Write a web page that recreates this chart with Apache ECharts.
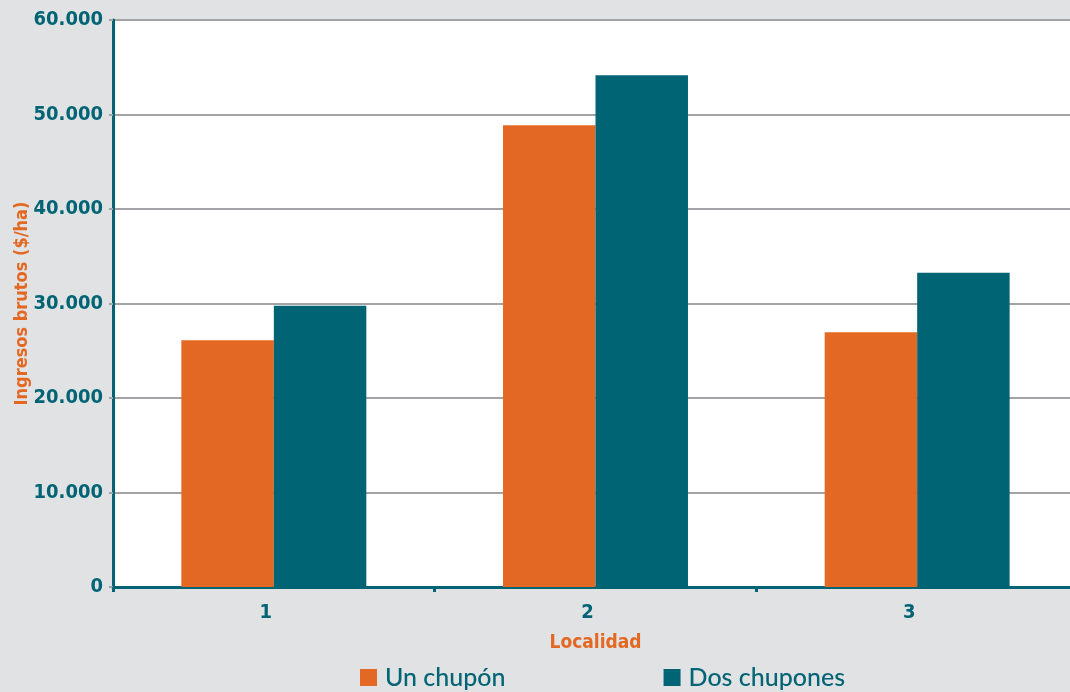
<!DOCTYPE html>
<html>
<head>
<meta charset="utf-8">
<script src="https://cdn.jsdelivr.net/npm/echarts@6/dist/echarts.min.js"></script>
<style>
  html, body { margin: 0; padding: 0; background: #e1e2e4; }
  #chart { width: 1070px; height: 692px; }
</style>
</head>
<body>
<div id="chart"></div>
<script>
// Gross income per hectare by locality, one vs. two suckers
const categories = ['1', '2', '3'];
const unChupon = [26100, 48850, 26950];
const dosChupones = [29750, 54150, 33250];
const yTicks = { min: 0, max: 60000, interval: 10000 };

const TEAL = '#006475';
const ORANGE = '#e36823';
const NARROW = '"DejaVu Sans Condensed", "Liberation Sans Narrow", sans-serif';

const chart = echarts.init(document.getElementById('chart'), null, { renderer: 'canvas' });

chart.setOption({
  backgroundColor: '#e1e2e4',
  animation: false,
  grid: {
    left: 113, right: -8, top: 20, bottom: 105,
    containLabel: false,
    outerBoundsMode: 'none',
    show: true, backgroundColor: '#ffffff', borderWidth: 0
  },
  legend: {
    bottom: -3,
    left: 355,
    itemWidth: 17, itemHeight: 17,
    itemGap: 158,
    icon: 'rect',
    textStyle: {
      color: TEAL, fontSize: 25, fontWeight: 500, fontFamily: 'Lato, "Noto Sans", sans-serif',
      padding: [0, 0, 0, 3]
    },
    data: ['Un chupón', 'Dos chupones']
  },
  xAxis: {
    type: 'category',
    data: categories,
    name: 'Localidad',
    nameLocation: 'middle',
    nameGap: 47,
    nameMoveOverlap: false,
    nameTextStyle: { color: ORANGE, fontSize: 19, fontWeight: 'bold', fontFamily: NARROW },
    axisLine: { lineStyle: { color: TEAL, width: 3 } },
    axisTick: { show: true, length: 5, lineStyle: { color: TEAL, width: 3 } },
    axisLabel: {
      color: TEAL, fontSize: 20, fontWeight: 'bold', fontFamily: NARROW,
      margin: 16, padding: [0, 16, 0, 0]
    }
  },
  yAxis: {
    type: 'value',
    min: yTicks.min, max: yTicks.max, interval: yTicks.interval,
    name: 'Ingresos brutos ($/ha)',
    nameLocation: 'middle',
    nameGap: 82,
    nameMoveOverlap: false,
    nameTextStyle: { color: ORANGE, fontSize: 18, fontWeight: 'bold', fontFamily: NARROW },
    axisLine: { show: true, lineStyle: { color: TEAL, width: 3 } },
    axisTick: { show: true, length: 4, lineStyle: { color: '#a3a3a7', width: 2 } },
    splitLine: { lineStyle: { color: '#a3a3a7', width: 2 } },
    axisLabel: {
      color: TEAL, fontSize: 20, fontWeight: 'bold', fontFamily: NARROW,
      margin: 10,
      formatter: v => v === 0 ? '0' : (v / 1000).toFixed(0) + '.000'
    }
  },
  series: [
    {
      name: 'Un chupón', type: 'bar', data: unChupon,
      itemStyle: { color: ORANGE },
      barGap: '0%', barCategoryGap: '42.5%'
    },
    {
      name: 'Dos chupones', type: 'bar', data: dosChupones,
      itemStyle: { color: TEAL },
      barGap: '0%', barCategoryGap: '42.5%'
    }
  ]
});
</script>
</body>
</html>
